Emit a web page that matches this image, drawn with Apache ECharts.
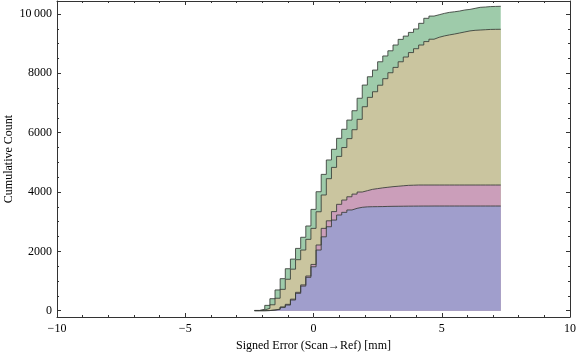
<!DOCTYPE html>
<html>
<head>
<meta charset="utf-8">
<script src="https://cdn.jsdelivr.net/npm/echarts@6/dist/echarts.min.js"></script>
<style>
html,body{margin:0;padding:0;background:#fff;}
#chart{width:576px;height:357px;}
</style>
</head>
<body>
<div id="chart"></div>
<script>
// Bin edges of the cumulative histograms (mm)
var binEdges = [-2.3,-2.1,-1.9,-1.7,-1.5,-1.3,-1.1,-0.9,-0.7,-0.5,-0.3,-0.1,0.1,0.3,0.5,0.7,0.9,1.1,1.3,1.5,1.7,1.9,2.1,2.3,2.5,2.7,2.9,3.1,3.3,3.5,3.7,3.9,4.1,4.3,4.5,4.7,4.9,5.1,5.3,5.5,5.7,5.9,6.1,6.3,6.5,6.7,6.9,7.1,7.3];

// Cumulative counts per bin (48 bins)
var greenCounts = [10,47,180,405,700,1080,1415,1740,2100,2475,2855,3415,4010,4595,5080,5440,5810,6115,6425,6740,7160,7605,7885,8110,8390,8585,8760,8955,9145,9255,9380,9495,9685,9855,9930,9975,10020,10055,10075,10100,10135,10155,10190,10225,10235,10250,10255,10260];
var khakiCounts = [5,25,80,200,420,720,1060,1400,1720,2045,2405,2775,3335,3900,4450,4830,5200,5500,5800,6100,6450,6875,7190,7380,7600,7820,8020,8200,8390,8550,8700,8830,8955,9070,9150,9215,9260,9295,9325,9360,9395,9430,9450,9460,9470,9480,9483,9485];
var pinkCounts  = [0,0,5,25,55,125,215,390,620,870,1170,1560,2215,2775,3030,3340,3585,3730,3840,3930,4000,4045,4090,4115,4140,4160,4180,4195,4210,4225,4230,4236,4236,4236,4236,4236,4236,4236,4236,4236,4236,4236,4236,4236,4236,4236,4236,4236];
var blueCounts  = [0,0,5,20,45,115,190,360,585,830,1125,1480,2045,2490,2830,3055,3225,3315,3395,3450,3485,3500,3505,3507,3510,3515,3518,3520,3522,3524,3525,3526,3527,3527,3528,3528,3528,3528,3528,3528,3528,3528,3528,3528,3528,3528,3528,3528];

var xTicks = [-10,-5,0,5,10];
var yTicks = [0,2000,4000,6000,8000,10000];
var yMinorTicks = [500,1000,1500,2500,3000,3500,4500,5000,5500,6500,7000,7500,8500,9000,9500];

var xTitle = 'Signed Error (Scan\u2192Ref) [mm]';
var yTitle = 'Cumulative Count';

function stepData(counts){
  var d = [];
  for (var i = 0; i < counts.length; i++) d.push([binEdges[i], counts[i]]);
  d.push([binEdges[counts.length], counts[counts.length-1]]);
  return d;
}

var FONT = 'Liberation Serif';
var frameColor = '#333';
var yMin = -212, yMax = 10438;

function xLabel(v){ return v < 0 ? '\u2212' + Math.abs(v) : String(v); }
function yLabel(v){ return v >= 10000 ? String(v).replace(/(\d+)(\d{3})$/, '$1\u2009$2') : String(v); }

var chart = echarts.init(document.getElementById('chart'), null, {renderer:'canvas'});

function areaSeries(name, counts, fill){
  return {
    name: name, type: 'line', step: 'end', symbol: 'none',
    data: stepData(counts),
    lineStyle: {color: 'rgba(55,60,55,0.85)', width: 1},
    areaStyle: {color: fill, opacity: 1},
    animation: false
  };
}

chart.setOption({
  animation: false,
  grid: {left: 57, right: 6, top: 1, bottom: 40, containLabel: false, outerBoundsMode: 'none'},
  xAxis: [
    {type:'value', position:'bottom', min:-10, max:10, interval:5,
     axisLine:{show:true, onZero:false, lineStyle:{color:frameColor, width:1}},
     axisTick:{show:true, inside:true, length:4, lineStyle:{color:frameColor}},
     minorTick:{show:true, splitNumber:5, length:2, lineStyle:{color:frameColor}},
     splitLine:{show:false},
     axisLabel:{formatter:xLabel, fontFamily:FONT, fontSize:12, color:'#000', margin:6},
     name:xTitle, nameLocation:'middle', nameGap:23, nameMoveOverlap:false,
     nameTextStyle:{fontFamily:FONT, fontSize:12, color:'#000'}},
    {type:'value', position:'top', min:-10, max:10, interval:5,
     axisLine:{show:true, onZero:false, lineStyle:{color:frameColor, width:1}},
     axisTick:{show:true, inside:true, length:4, lineStyle:{color:frameColor}},
     minorTick:{show:true, splitNumber:5, length:2, lineStyle:{color:frameColor}},
     splitLine:{show:false}, axisLabel:{show:false}}
  ],
  yAxis: [
    {type:'value', position:'left', min:yMin, max:yMax,
     axisLine:{show:true, onZero:false, lineStyle:{color:frameColor, width:1}},
     axisTick:{show:true, inside:true, length:4, customValues:yTicks, lineStyle:{color:frameColor}},
     axisLabel:{customValues:yTicks, formatter:yLabel, fontFamily:FONT, fontSize:12, color:'#000', margin:5},
     splitLine:{show:false},
     name:yTitle, nameLocation:'middle', nameGap:42, nameRotate:90, nameMoveOverlap:false,
     nameTextStyle:{fontFamily:FONT, fontSize:12, color:'#000'}},
    {type:'value', position:'left', min:yMin, max:yMax,
     axisLine:{show:false, onZero:false},
     axisTick:{show:true, inside:true, length:2, customValues:yMinorTicks, lineStyle:{color:frameColor}},
     axisLabel:{show:false}, splitLine:{show:false}},
    {type:'value', position:'right', min:yMin, max:yMax,
     axisLine:{show:true, onZero:false, lineStyle:{color:frameColor, width:1}},
     axisTick:{show:true, inside:true, length:4, customValues:yTicks, lineStyle:{color:frameColor}},
     axisLabel:{show:false}, splitLine:{show:false}},
    {type:'value', position:'right', min:yMin, max:yMax,
     axisLine:{show:false, onZero:false},
     axisTick:{show:true, inside:true, length:2, customValues:yMinorTicks, lineStyle:{color:frameColor}},
     axisLabel:{show:false}, splitLine:{show:false}}
  ],
  series: [
    areaSeries('green', greenCounts, '#9ecbaa'),
    areaSeries('khaki', khakiCounts, '#cac59f'),
    areaSeries('pink', pinkCounts, '#cb9eba'),
    areaSeries('blue', blueCounts, '#a09ecc')
  ]
});
</script>
</body>
</html>
